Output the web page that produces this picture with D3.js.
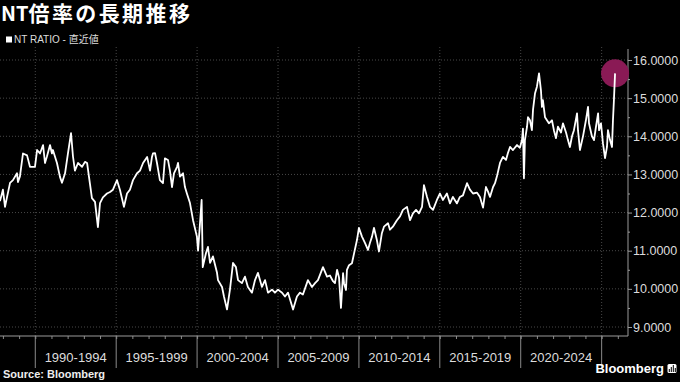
<!DOCTYPE html>
<html><head><meta charset="utf-8">
<script src="https://cdn.jsdelivr.net/npm/d3@7"></script>
<style>
body{margin:0;background:#000;position:relative;width:680px;height:382px;overflow:hidden}
svg{display:block;position:absolute;left:0;top:0}
#title{position:absolute;left:1px;top:2px;color:#fff;font-weight:bold;font-family:"Noto Sans CJK JP",sans-serif;line-height:21px;white-space:nowrap;z-index:2}
</style>
</head><body><svg id="c" width="680" height="382"></svg><div id="title"></div>
<script>
// ---- data (decimal year, NT ratio) ----
const dates = [
1987.82,1988.00,1988.13,1988.25,1988.44,1988.62,1988.87,1988.93,1989.05,1989.24,1989.49,1989.67,1989.98,
1990.11,1990.29,1990.48,1990.60,1990.72,1990.91,1991.03,1991.09,1991.34,1991.53,1991.65,1991.84,
1992.02,1992.21,1992.33,1992.45,1992.64,1992.89,1993.07,1993.20,1993.32,1993.50,1993.69,1993.87,
1994.00,1994.18,1994.43,1994.62,1994.80,1995.05,1995.23,1995.48,1995.67,1995.85,1996.04,1996.29,
1996.47,1996.66,1996.91,1997.09,1997.21,1997.27,1997.40,1997.52,1997.70,1997.89,1998.01,1998.20,
1998.32,1998.45,1998.57,1998.76,1998.82,1998.94,1999.13,1999.25,1999.37,1999.56,1999.75,1999.99,
2000.06,2000.18,2000.28,2000.31,2000.35,2000.55,2000.67,2000.80,2000.98,2001.23,2001.29,2001.54,
2001.66,2001.85,2002.03,2002.22,2002.40,2002.53,2002.77,2002.96,2003.14,2003.39,2003.58,2003.76,
2004.01,2004.20,2004.38,2004.63,2004.81,2005.00,2005.25,2005.43,2005.62,2005.93,2006.17,2006.36,
2006.54,2006.85,2007.10,2007.29,2007.47,2007.78,2008.03,2008.21,2008.40,2008.52,2008.65,2008.77,
2008.89,2009.02,2009.08,2009.20,2009.26,2009.39,2009.57,2009.70,2009.88,2010.00,2010.19,2010.38,
2010.56,2010.68,2010.81,2010.93,2011.11,2011.24,2011.42,2011.55,2011.80,2011.92,2012.10,2012.35,
2012.54,2012.72,2012.97,2013.16,2013.34,2013.53,2013.71,2013.90,2014.02,2014.21,2014.39,2014.58,
2014.82,2015.01,2015.19,2015.44,2015.63,2015.81,2016.06,2016.24,2016.43,2016.68,2016.86,2017.05,
2017.30,2017.48,2017.67,2017.85,2017.98,2018.10,2018.29,2018.41,2018.53,2018.72,2018.90,2019.09,
2019.21,2019.34,2019.52,2019.77,2019.95,2020.08,2020.14,2020.20,2020.26,2020.39,2020.45,2020.57,
2020.69,2020.76,2020.88,2021.00,2021.13,2021.25,2021.31,2021.37,2021.50,2021.62,2021.74,2021.93,
2022.05,2022.18,2022.30,2022.49,2022.61,2022.80,2022.92,2023.04,2023.17,2023.29,2023.48,2023.54,
2023.66,2023.85,2024.03,2024.16,2024.22,2024.40,2024.53,2024.65,2024.78,2024.84,2024.96,2025.08,
2025.21,2025.33,2025.39,2025.52,2025.64,2025.70,2025.76,2025.83
];
const ratio = [
12.30,12.60,12.15,12.40,12.78,12.85,13.03,12.80,12.95,13.55,13.50,13.20,13.20,
13.64,13.55,13.77,13.30,13.47,13.77,13.55,13.64,13.30,12.93,12.78,13.03,
13.55,14.08,13.47,13.10,13.30,13.20,13.33,13.30,12.93,12.38,12.28,11.62,
12.25,12.40,12.50,12.54,12.60,12.85,12.60,12.15,12.50,12.60,12.85,13.03,
13.10,13.30,13.46,13.10,13.46,13.55,13.56,13.30,12.85,12.77,13.42,13.38,
13.10,12.67,13.03,13.20,13.30,12.94,13.03,12.67,12.50,12.25,11.80,11.37,
11.00,11.72,12.33,11.60,10.57,10.94,11.10,10.68,10.85,10.42,10.23,10.05,
9.80,9.46,9.98,10.68,10.57,10.23,10.15,10.32,10.05,9.90,10.23,10.42,
10.05,10.23,9.90,9.98,9.90,9.98,9.90,9.80,9.90,9.46,9.80,9.90,
9.85,10.23,10.05,10.15,10.23,10.57,10.32,10.35,10.20,10.15,10.50,10.30,
9.50,10.41,10.15,9.97,10.50,10.62,10.67,10.93,11.28,11.60,11.37,11.20,
11.02,11.20,11.37,11.60,11.28,10.98,11.46,11.63,11.72,11.55,11.63,11.80,
11.90,12.07,12.15,11.80,11.98,12.07,11.98,12.15,12.72,12.41,12.15,12.07,
12.33,12.50,12.33,12.50,12.24,12.41,12.24,12.41,12.45,12.77,12.60,12.50,
12.52,12.41,12.13,12.67,12.55,12.41,12.67,12.77,12.95,13.30,13.46,13.38,
13.56,13.72,13.64,13.77,13.70,13.90,14.20,12.90,13.90,14.25,14.50,14.42,
14.16,14.70,15.12,15.30,15.65,15.20,14.77,14.95,14.50,14.42,14.34,14.42,
14.16,13.95,14.25,14.10,14.34,14.10,13.90,13.72,14.00,14.16,14.60,14.16,
13.64,14.00,14.42,14.77,14.34,14.00,13.90,14.25,14.60,14.16,14.34,13.82,
13.43,13.72,14.16,13.90,13.72,14.42,14.95,15.65
];
const yTicks = [9,10,11,12,13,14,15,16];
const periodStarts = [1990,1995,2000,2005,2010,2015,2020,2025];
const periodLabels = ["1990-1994","1995-1999","2000-2004","2005-2009","2010-2014","2015-2019","2020-2024"];
const titleLatin = "NT";
const titleCJK = "倍率の長期推移";
const legendLabel = "NT RATIO - 直近値";
const sourceText = "Source: Bloomberg";
const brand = "Bloomberg";
const domainStart = 1987.82, domainEnd = 2026.63;

// ---- helpers ----
const toDate = v => { const yr = Math.floor(v); const a = new Date(yr,0,1), b = new Date(yr+1,0,1); return new Date(+a + (v-yr)*(b-a)); };
const svg = d3.select("#c");
svg.append("rect").attr("width",680).attr("height",382).attr("fill","#000");

const plotR = 628, plotTop = 47, axisY = 336;
const x = d3.scaleTime().domain([toDate(domainStart), toDate(domainEnd)]).range([0, plotR]);
const y = d3.scaleLinear().domain([9,16]).range([327,60]);

// grid
svg.append("g").selectAll("line").data(yTicks).join("line")
  .attr("x1",0).attr("x2",plotR).attr("y1",d=>y(d)).attr("y2",d=>y(d))
  .attr("stroke","#5a5a5a").attr("stroke-width",0.8).attr("stroke-dasharray","1,2");
svg.append("g").selectAll("line").data(periodStarts).join("line")
  .attr("x1",d=>x(toDate(d))).attr("x2",d=>x(toDate(d))).attr("y1",plotTop).attr("y2",axisY)
  .attr("stroke","#5a5a5a").attr("stroke-width",0.8).attr("stroke-dasharray","1,2");

// x axis minor ticks (yearly)
const xAxis = d3.axisBottom(x).ticks(d3.timeYear.every(1)).tickSize(3).tickSizeOuter(0).tickFormat("");
const gx = svg.append("g").attr("transform",`translate(0,${axisY})`).call(xAxis);
gx.select(".domain").remove();
gx.selectAll("line").attr("stroke","#8a8a8a");
svg.append("line").attr("x1",0).attr("x2",plotR).attr("y1",axisY).attr("y2",axisY).attr("stroke","#9a9a9a");
// period separators
svg.append("g").selectAll("line").data(periodStarts).join("line")
  .attr("x1",d=>x(toDate(d))).attr("x2",d=>x(toDate(d))).attr("y1",axisY).attr("y2",368)
  .attr("stroke","#8a8a8a");
svg.append("g").selectAll("text").data(periodLabels).join("text")
  .attr("x",(d,i)=>(x(toDate(periodStarts[i]))+x(toDate(periodStarts[i+1])))/2)
  .attr("y",362).attr("text-anchor","middle")
  .attr("font-family","Liberation Sans, Arial, sans-serif").attr("font-size",13)
  .attr("fill","#dcdcdc").text(d=>d);

// y axis
svg.append("line").attr("x1",plotR).attr("x2",plotR).attr("y1",plotTop+2).attr("y2",axisY).attr("stroke","#9a9a9a");
const minor = d3.range(9.5,16.5,1);
const gyMinor = svg.append("g").attr("transform",`translate(${plotR},0)`)
  .call(d3.axisRight(y).tickValues(minor).tickSize(2).tickFormat(""));
gyMinor.select(".domain").remove();
gyMinor.selectAll("line").attr("stroke","#9a9a9a");
const gy = svg.append("g").attr("transform",`translate(${plotR},0)`)
  .call(d3.axisRight(y).tickValues(yTicks).tickSize(4).tickPadding(1).tickFormat(d3.format(".4f")));
gy.select(".domain").remove();
gy.selectAll("line").attr("stroke","#9a9a9a");
gy.selectAll("text").attr("fill","#dcdcdc").attr("font-size",12.5)
  .attr("font-family","Liberation Sans, Arial, sans-serif");

// highlight circle at last value
const n = dates.length;
svg.append("circle").attr("cx",x(toDate(dates[n-1]))).attr("cy",y(ratio[n-1])).attr("r",14)
  .attr("fill","#8a1a55");

// line
const line = d3.line().x((d,i)=>x(toDate(dates[i]))).y((d)=>y(d)).curve(d3.curveLinear);
svg.append("path").datum(ratio).attr("d",line).attr("fill","none")
  .attr("stroke","#fff").attr("stroke-width",1.8).attr("stroke-linejoin","round");

// title (HTML) & legend
const tdiv = d3.select("#title");
tdiv.append("span").style("font-size","20px").text(titleLatin);
tdiv.append("span").style("font-size","21px").style("letter-spacing","2.4px").text(titleCJK);
svg.append("rect").attr("x",6).attr("y",36.5).attr("width",6).attr("height",6).attr("fill","#fff");
svg.append("text").attr("x",14).attr("y",43).attr("fill","#ddd").attr("font-size",10)
  .attr("font-family","Liberation Sans, Noto Sans CJK JP, sans-serif").text(legendLabel);

// footer
svg.append("text").attr("x",3).attr("y",378).attr("fill","#eee").attr("font-size",11).attr("font-weight","bold")
  .attr("font-family","Liberation Sans, Arial, sans-serif").text(sourceText);
svg.append("text").attr("x",664).attr("y",373).attr("text-anchor","end").attr("fill","#fff")
  .attr("font-size",13).attr("font-weight","bold").attr("font-family","Liberation Sans, Arial, sans-serif").text(brand);
svg.append("rect").attr("x",667.5).attr("y",364).attr("width",9).attr("height",9).attr("rx",1.5).attr("fill","#fff");
const bars = [3,5,7,4];
svg.append("g").selectAll("rect").data(bars).join("rect")
  .attr("x",(d,i)=>668.8+i*2).attr("y",d=>372-d).attr("width",1).attr("height",d=>d).attr("fill","#000");
</script></body></html>
